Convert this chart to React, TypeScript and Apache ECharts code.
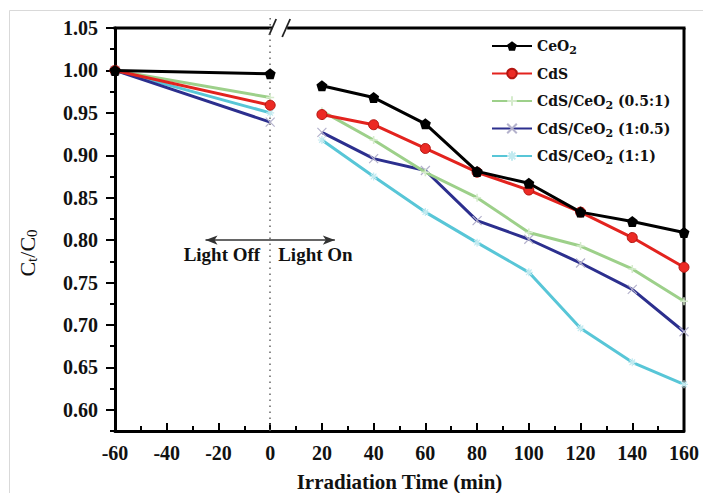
import React, { useEffect, useRef } from 'react';
import * as echarts from 'echarts';

const times = [-60, 0, 20, 40, 60, 80, 100, 120, 140, 160];
const seriesNames = ['CeO2', 'CdS', 'CdS/CeO2 (0.5:1)', 'CdS/CeO2 (1:0.5)', 'CdS/CeO2 (1:1)'];
const ceo2 = [1.0, 0.996, 0.982, 0.968, 0.937, 0.881, 0.867, 0.833, 0.822, 0.809];
const cds = [1.0, 0.959, 0.948, 0.936, 0.908, 0.880, 0.859, 0.833, 0.803, 0.768];
const r051 = [1.0, 0.968, 0.952, 0.918, 0.880, 0.850, 0.809, 0.793, 0.766, 0.728];
const r105 = [1.0, 0.939, 0.927, 0.896, 0.882, 0.823, 0.801, 0.773, 0.742, 0.692];
const r11 = [1.0, 0.950, 0.918, 0.875, 0.833, 0.797, 0.762, 0.696, 0.656, 0.630];
const yLabelTicks = [0.6, 0.65, 0.7, 0.75, 0.8, 0.85, 0.9, 0.95, 1.0, 1.05];
const yMinorTicks = [0.575, 0.625, 0.675, 0.725, 0.775, 0.825, 0.875, 0.925, 0.975, 1.025];

const FONT = '"Liberation Serif", "Times New Roman", serif';
const LFONT = '"DejaVu Serif", "Liberation Serif", serif';

function toData(vals: number[]) {
  const out: any[] = [];
  times.forEach((t, i) => {
    out.push([t, vals[i]]);
    if (t === 0) out.push([10, '-']);
  });
  return out;
}

function legendFmt(name: string) {
  const parts = name.split('CeO2');
  if (parts.length > 1) {
    return `{b|${parts[0]}CeO}{s|2}{b|${parts[1]}}`;
  }
  return `{b|${name}}`;
}

export default function App() {
  const ref = useRef<HTMLDivElement>(null);
  useEffect(() => {
    document.body.style.margin = '0';
    const chart = echarts.init(ref.current!, null, { renderer: 'svg' });
    const pentagon = 'path://M0,-10L9.5,-3.1L5.9,8.1L-5.9,8.1L-9.5,-3.1Z';
    const cross = 'path://M0,0L10,10M10,0L0,10';
    const plus = 'path://M5,0L5,10M0,5L10,5';
    const star = 'path://M5,0L5,10M0,5L10,5M1.5,1.5L8.5,8.5M8.5,1.5L1.5,8.5';
    const styles = [
      { color: '#000000', symbol: pentagon, size: 11, item: { color: '#000', borderColor: '#000', borderWidth: 0 } },
      { color: '#e3231e', symbol: 'circle', size: 10, item: { color: '#ec2a24', borderColor: '#b31510', borderWidth: 1 } },
      { color: '#9dd08a', symbol: plus, size: 8, item: { color: '#e8f4e2', borderColor: '#d5ebcc', borderWidth: 1.5 } },
      { color: '#2c2f8e', symbol: cross, size: 9, item: { color: '#c8c8d8', borderColor: '#b4b2cc', borderWidth: 1.2 } },
      { color: '#58c6d7', symbol: star, size: 8, item: { color: '#cdeef3', borderColor: '#c2eaf0', borderWidth: 1.2 } },
    ];
    const values = [ceo2, cds, r051, r105, r11];
    const series: any[] = values.map((v, i) => ({
      name: seriesNames[i],
      type: 'line',
      data: toData(v),
      symbol: styles[i].symbol,
      symbolSize: styles[i].size,
      showAllSymbol: true,
      connectNulls: false,
      lineStyle: { color: styles[i].color, width: 3 },
      itemStyle: styles[i].item,
      z: 10 - i,
    }));
    series[0].markLine = {
      silent: true,
      symbol: ['none', 'none'],
      label: { show: false },
      lineStyle: { color: '#666', type: [1.5, 4.5], width: 1.5 },
      data: [{ xAxis: 0 }],
    };
    series[1].markLine = {
      silent: true,
      symbol: ['arrow', 'arrow'],
      symbolSize: [7, 12],
      label: { show: false },
      lineStyle: { color: '#333', type: 'solid', width: 1.5 },
      data: [[{ coord: [-25, 0.8] }, { coord: [25, 0.8] }]],
    };

    const axisLabelStyle = { fontFamily: FONT, fontWeight: 'bold', fontSize: 20, color: '#111' };
    chart.setOption({
      animation: false,
      backgroundColor: '#fff',
      grid: { left: 115, right: 19, top: 28, bottom: 62, outerBoundsMode: 'none', containLabel: false },
      legend: {
        orient: 'vertical',
        left: 486,
        top: 31,
        itemWidth: 40,
        itemHeight: 12,
        itemGap: 7.5,
        data: seriesNames,
        formatter: legendFmt,
        textStyle: {
          fontFamily: LFONT,
          fontWeight: 'bold',
          fontSize: 14,
          color: '#111',
          lineHeight: 20,
          rich: {
            b: { fontFamily: LFONT, fontWeight: 'bold', fontSize: 14, color: '#111', lineHeight: 20 },
            s: { fontFamily: LFONT, fontWeight: 'bold', fontSize: 11, color: '#111', lineHeight: 5, verticalAlign: 'bottom' },
          },
        },
      },
      xAxis: {
        type: 'value',
        min: -60,
        max: 160,
        interval: 20,
        name: 'Irradiation Time (min)',
        nameLocation: 'middle',
        nameGap: 40,
        nameTextStyle: { fontFamily: FONT, fontWeight: 'bold', fontSize: 21, color: '#111' },
        axisLine: { show: true, onZero: false, lineStyle: { color: '#000', width: 3 } },
        axisTick: { show: true, inside: true, length: 8, lineStyle: { color: '#000', width: 2 } },
        minorTick: { show: true, splitNumber: 2, length: 5, lineStyle: { color: '#000', width: 2 } },
        splitLine: { show: false },
        axisLabel: { ...axisLabelStyle, margin: 12 },
      },
      yAxis: [
        {
          type: 'value',
          min: 0.575,
          max: 1.05,
          axisLine: { show: true, onZero: false, lineStyle: { color: '#000', width: 3 } },
          axisTick: { show: true, inside: false, length: 9, customValues: yLabelTicks, lineStyle: { color: '#000', width: 2 } },
          axisLabel: { ...axisLabelStyle, margin: 17, customValues: yLabelTicks, formatter: (v: number) => v.toFixed(2) },
          splitLine: { show: false },
        },
        {
          type: 'value',
          min: 0.575,
          max: 1.05,
          position: 'left',
          offset: 0,
          axisLine: { show: false, onZero: false },
          axisTick: { show: true, inside: false, length: 5, customValues: yMinorTicks, lineStyle: { color: '#000', width: 2 } },
          axisLabel: { show: false },
          splitLine: { show: false },
        },
      ],
      series,
    });

    const tl = chart.convertToPixel({ gridIndex: 0 }, [-60, 1.05]) as number[];
    const br = chart.convertToPixel({ gridIndex: 0 }, [160, 0.575]) as number[];
    const z0 = chart.convertToPixel({ gridIndex: 0 }, [0, 0.8]) as number[];
    const top = tl[1];
    const xb1 = z0[0] + 2;
    const xb2 = z0[0] + 17;
    const black = { stroke: '#000', lineWidth: 3 };
    chart.setOption({
      graphic: [
        { type: 'line', shape: { x1: 9.5, y1: 10.5, x2: 703, y2: 10.5 }, style: { stroke: '#d9d9d9', lineWidth: 1 }, silent: true },
        { type: 'line', shape: { x1: 9.5, y1: 10.5, x2: 9.5, y2: 493 }, style: { stroke: '#d9d9d9', lineWidth: 1 }, silent: true },
        { type: 'line', shape: { x1: z0[0], y1: top - 10, x2: z0[0], y2: top }, style: { stroke: '#666', lineWidth: 1.5, lineDash: [1.5, 4.5] }, silent: true },
        { type: 'line', shape: { x1: tl[0] - 1.5, y1: top, x2: xb1, y2: top }, style: black, silent: true },
        { type: 'line', shape: { x1: xb2, y1: top, x2: br[0] + 1.5, y2: top }, style: black, silent: true },
        { type: 'line', shape: { x1: br[0], y1: top, x2: br[0], y2: br[1] }, style: black, silent: true },
        { type: 'line', shape: { x1: xb1 - 3, y1: top + 7, x2: xb1 + 4, y2: top - 9 }, style: { stroke: '#222', lineWidth: 1.8 }, silent: true },
        { type: 'line', shape: { x1: xb2 - 5, y1: top + 9, x2: xb2 + 3, y2: top - 9 }, style: { stroke: '#222', lineWidth: 1.8 }, silent: true },
        {
          type: 'text', x: z0[0] - 10, y: z0[1] + 14, silent: true,
          style: { text: 'Light Off', fontFamily: FONT, fontWeight: 'bold', fontSize: 19, fill: '#111', align: 'right', verticalAlign: 'middle' },
        },
        {
          type: 'text', x: z0[0] + 8, y: z0[1] + 14, silent: true,
          style: { text: 'Light On', fontFamily: FONT, fontWeight: 'bold', fontSize: 19, fill: '#111', align: 'left', verticalAlign: 'middle' },
        },
        {
          type: 'text', x: 27, y: 253, rotation: Math.PI / 2, silent: true,
          style: {
            text: '{a|C}{s|t}{a|/C}{s|0}',
            align: 'center',
            verticalAlign: 'middle',
            rich: {
              a: { fontFamily: FONT, fontSize: 22, fill: '#111', lineHeight: 24 },
              s: { fontFamily: FONT, fontSize: 15, fill: '#111', lineHeight: 6, verticalAlign: 'bottom' },
            },
          },
        },
      ],
    });
    return () => chart.dispose();
  }, []);
  return <div ref={ref} style={{ width: 703, height: 493 }} />;
}
